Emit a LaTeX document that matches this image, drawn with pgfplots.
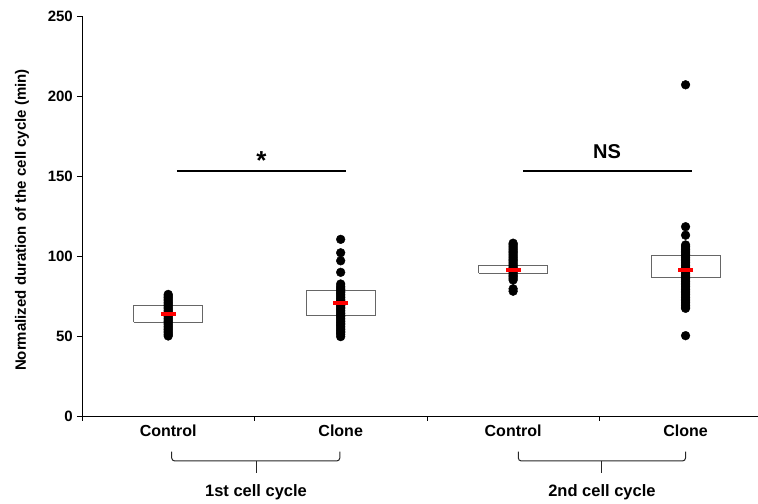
\documentclass[border=0pt]{standalone}
\usepackage{fontspec}
\setmainfont{Liberation Sans}
\usepackage{pgfplots}
\pgfplotsset{compat=1.18}
\begin{document}
\begin{tikzpicture}
\begin{axis}[
  scale only axis, width=676pt, height=400pt,
  xmin=0.5, xmax=4.42, ymin=0, ymax=250,
  axis x line=bottom, axis y line=left,
  axis line style={-, line width=0.9pt},
  xtick={1,2,3,4}, xticklabels={Control,Clone,Control,Clone},
  minor xtick={0.5,1.5,2.5,3.5},
  major x tick style={draw=none},
  ytick={0,50,100,150,200,250},
  tick align=outside,
  major tick length=5pt, minor tick length=5pt,
  tick style={black, line width=0.8pt},
  /pgf/number format/assume math mode=true,
  yticklabel style={font=\bfseries\fontsize{15}{18}\selectfont, inner sep=0pt, xshift=-4pt},
  xticklabel style={font=\bfseries\fontsize{16}{19}\selectfont, inner sep=0pt, anchor=north, yshift=-4pt},
  clip=false,
]
\coordinate (BL) at (rel axis cs:0,0);
\coordinate (TR) at (rel axis cs:1,1);
% boxes
\addplot[black!60, line width=0.9pt] coordinates {(0.8,58.6) (1.2,58.6) (1.2,68.9) (0.8,68.9) (0.8,58.6)};
\addplot[black!60, line width=0.9pt] coordinates {(1.8,62.7) (2.2,62.7) (2.2,78.3) (1.8,78.3) (1.8,62.7)};
\addplot[black!60, line width=0.9pt] coordinates {(2.8,89.2) (3.2,89.2) (3.2,94.2) (2.8,94.2) (2.8,89.2)};
\addplot[black!60, line width=0.9pt] coordinates {(3.8,86.7) (4.2,86.7) (4.2,100.2) (3.8,100.2) (3.8,86.7)};
% dots
\addplot[only marks, mark=*, mark size=4.4pt, black] coordinates {
(1,50)(1,51)(1,52)(1,53)(1,54)(1,55)(1,56)(1,57)(1,58)(1,59)(1,60)(1,61)(1,62)(1,63)(1,64)(1,65)(1,66)(1,67)(1,68)(1,69)(1,70)(1,71)(1,72)(1,73)(1,74)(1,75)(1,76)
};
\addplot[only marks, mark=*, mark size=4.4pt, black] coordinates {
(2,49.6)(2,51)(2,52)(2,53)(2,54)(2,55)(2,56)(2,57)(2,58)(2,59)(2,60)(2,61)(2,62)(2,63)(2,64)(2,65)(2,66)(2,67)(2,68)(2,69)(2,70)(2,71)(2,72)(2,73)(2,74)(2,75)(2,76)(2,77)(2,78)(2,79)(2,80)(2,81)(2,82.5)(2,89.8)(2,97)(2,102)(2,110.4)
};
\addplot[only marks, mark=*, mark size=4.4pt, black] coordinates {
(3,78)(3,79.5)(3,85)(3,86)(3,87)(3,88)(3,89)(3,90)(3,91)(3,92)(3,93)(3,94)(3,95)(3,96)(3,97)(3,98)(3,99)(3,100)(3,101)(3,102)(3,103)(3,104)(3,105)(3,106)(3,107)(3,108)
};
\addplot[only marks, mark=*, mark size=4.4pt, black] coordinates {
(4,50.2)(4,67.3)(4,68)(4,69)(4,70)(4,71)(4,72)(4,73)(4,74)(4,75)(4,76)(4,77)(4,78)(4,79)(4,80)(4,81)(4,82)(4,83)(4,84)(4,85)(4,86)(4,87)(4,88)(4,89)(4,90)(4,91)(4,92)(4,93)(4,94)(4,95)(4,96)(4,97)(4,98)(4,99)(4,100)(4,101)(4,102)(4,103)(4,104)(4,105)(4,106)(4,106.9)(4,113)(4,118.3)(4,207)
};
% means
\addplot[only marks, mark=-, mark size=7.5pt, red, mark options={line width=3.8pt}] coordinates {(1,63.75) (2,70.8) (3,91.25) (4,91.25)};
% significance
\addplot[black, line width=1.6pt] coordinates {(1.05,153.3) (2.03,153.3)};
\addplot[black, line width=1.6pt] coordinates {(3.06,153.3) (4.04,153.3)};
\node[font=\bfseries\fontsize{26}{30}\selectfont, anchor=base, inner sep=0pt] at (axis cs:1.54,154) {*};
\node[font=\bfseries\fontsize{20}{24}\selectfont, anchor=base, inner sep=0pt] at (axis cs:3.545,160.7) {NS};
% brackets
\addplot[black!85, line width=1pt, rounded corners=3pt] coordinates {(1.02,-22.3) (1.02,-28.1) (1.995,-28.1) (1.995,-22.3)};
\addplot[black!85, line width=1pt] coordinates {(1.509,-28.1) (1.509,-35.6)};
\addplot[black!85, line width=1pt, rounded corners=3pt] coordinates {(3.03,-22.3) (3.03,-28.1) (4.0,-28.1) (4.0,-22.3)};
\addplot[black!85, line width=1pt] coordinates {(3.515,-28.1) (3.515,-35.6)};
\node[font=\bfseries\fontsize{16.5}{20}\selectfont, anchor=base, inner sep=0pt] at (axis cs:1.509,-50.4) {1st cell cycle};
\node[font=\bfseries\fontsize{16.5}{20}\selectfont, anchor=base, inner sep=0pt] at (axis cs:3.515,-50.4) {2nd cell cycle};
\node[font=\bfseries\fontsize{15}{18}\selectfont, rotate=90] at ([xshift=-60pt]rel axis cs:0,0.49) {Normalized duration of the cell cycle (min)};
\end{axis}
\pgfresetboundingbox
\path[use as bounding box] ([shift={(-82pt,-88pt)}]BL) rectangle ([shift={(0pt,16pt)}]TR);
\end{tikzpicture}
\end{document}
